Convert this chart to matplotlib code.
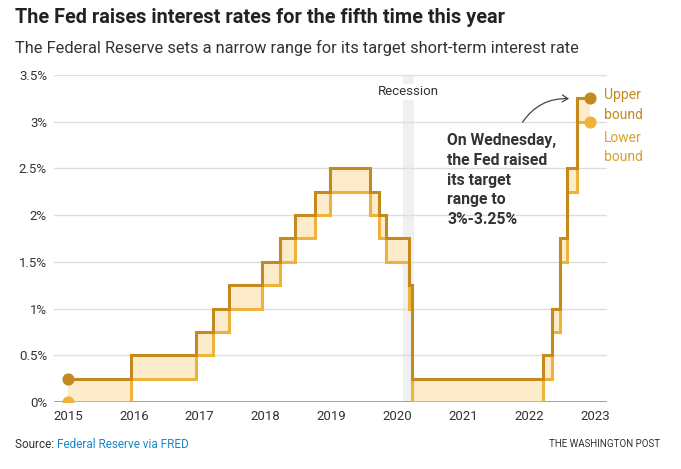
import matplotlib.pyplot as plt
from matplotlib.patches import FancyArrowPatch

# ==========================================
# Data
# ==========================================

# dates of each change in the upper bound, as decimal years
change_dates = [2015.0, 2015.96, 2016.95, 2017.20, 2017.45, 2017.95,
                2018.22, 2018.45, 2018.74, 2018.97, 2019.58, 2019.72,
                2019.83, 2020.17, 2020.21, 2022.21, 2022.34, 2022.46,
                2022.57, 2022.72]
end_date = 2022.92

upper_bound = [0.25, 0.5, 0.75, 1.0, 1.25, 1.5,
               1.75, 2.0, 2.25, 2.5, 2.25, 2.0,
               1.75, 1.25, 0.25, 0.5, 1.0, 1.75,
               2.5, 3.25]
lower_bound = [u - 0.25 for u in upper_bound]

recession = (2020.08, 2020.25)

year_ticks = [2015, 2016, 2017, 2018, 2019, 2020, 2021, 2022, 2023]
rate_ticks = [0, 0.5, 1, 1.5, 2, 2.5, 3, 3.5]
rate_labels = ["0%", "0.5%", "1%", "1.5%", "2%", "2.5%", "3%", "3.5%"]

# ==========================================
# Style
# ==========================================

plt.rcParams["font.family"] = ["Roboto", "DejaVu Sans"]

upper_color = "#c48a1e"
lower_color = "#efb23a"
fill_color = "#fdeccc"
text_color = "#333333"

x = change_dates + [end_date]
up = upper_bound + [upper_bound[-1]]
lo = lower_bound + [lower_bound[-1]]

fig = plt.figure(figsize=(6.81, 4.69), dpi=100)
ax = fig.add_axes([0.0793, 0.1429, 0.8117, 0.6972])

# recession band
ax.axvspan(recession[0], recession[1], color="#f0f0f0", zorder=0, lw=0)
ax.text(sum(recession) / 2, 3.32, "Recession", fontsize=9.5, color=text_color,
        ha="center", va="center", zorder=1,
        bbox=dict(facecolor="white", edgecolor="none", pad=1))

# grid
for r in rate_ticks[1:]:
    ax.axhline(r, color="#dddddd", lw=1, zorder=0.5)
ax.axhline(0, color="#999999", lw=2, zorder=2)

# fill between bounds
ax.fill_between(x, lo, up, step="post", color=fill_color, lw=0, zorder=2)

# step lines
ax.step(x, lo, where="post", color=lower_color, lw=2.2, zorder=3,
        solid_joinstyle="miter")
ax.step(x, up, where="post", color=upper_color, lw=2.2, zorder=4,
        solid_joinstyle="miter")

# end points
ax.scatter([x[0], x[-1]], [up[0], up[-1]], s=60, color=upper_color, zorder=5)
ax.scatter([x[0], x[-1]], [lo[0], lo[-1]], s=60, color=lower_color, zorder=5)

# bound labels
ax.text(2023.13, 3.18, "Upper\nbound", fontsize=10, color=upper_color,
        ha="left", va="center", linespacing=1.55, clip_on=False)
ax.text(2023.13, 2.72, "Lower\nbound", fontsize=10, color="#dba12c",
        ha="left", va="center", linespacing=1.45, clip_on=False)

# annotation
ax.text(2020.75, 2.88, "On Wednesday,\nthe Fed raised\nits target\nrange to\n3%-3.25%",
        fontsize=11.3, fontweight="bold", color=text_color,
        ha="left", va="top", linespacing=1.4)
arrow = FancyArrowPatch((2021.87, 2.97), (2022.64, 3.245),
                        connectionstyle="arc3,rad=-0.3",
                        arrowstyle="->,head_length=4,head_width=2.5",
                        color="#444444", lw=0.9)
ax.add_patch(arrow)

# axes
ax.set_xlim(2014.79, 2023.17)
ax.set_ylim(0, 3.5)
ax.set_xticks(year_ticks)
ax.set_xticklabels([str(y) for y in year_ticks])
ax.set_yticks(rate_ticks)
ax.set_yticklabels(rate_labels)
ax.tick_params(length=0, labelsize=9.5, colors=text_color)
ax.tick_params(axis="y", pad=5)
ax.tick_params(axis="x", pad=6)
for s in ax.spines.values():
    s.set_visible(False)

# titles
fig.text(0.022, 0.962, "The Fed raises interest rates for the fifth time this year",
         fontsize=14.3, fontweight="bold", color="#222222", va="center")
fig.text(0.022, 0.898, "The Federal Reserve sets a narrow range for its target short-term interest rate",
         fontsize=11.8, color=text_color, va="center")

# source
src = fig.text(0.022, 0.053, "Source: ", fontsize=8.5, color=text_color, va="center")
fig.canvas.draw()
bb = src.get_window_extent()
fig.text(bb.x1 / fig.bbox.width, 0.053, "Federal Reserve via FRED", fontsize=8.5,
         color="#1a87c9", va="center")
fig.text(0.969, 0.053, "THE WASHINGTON POST", fontsize=7, color=text_color,
         ha="right", va="center")

fig.savefig("out.png", dpi=100)
